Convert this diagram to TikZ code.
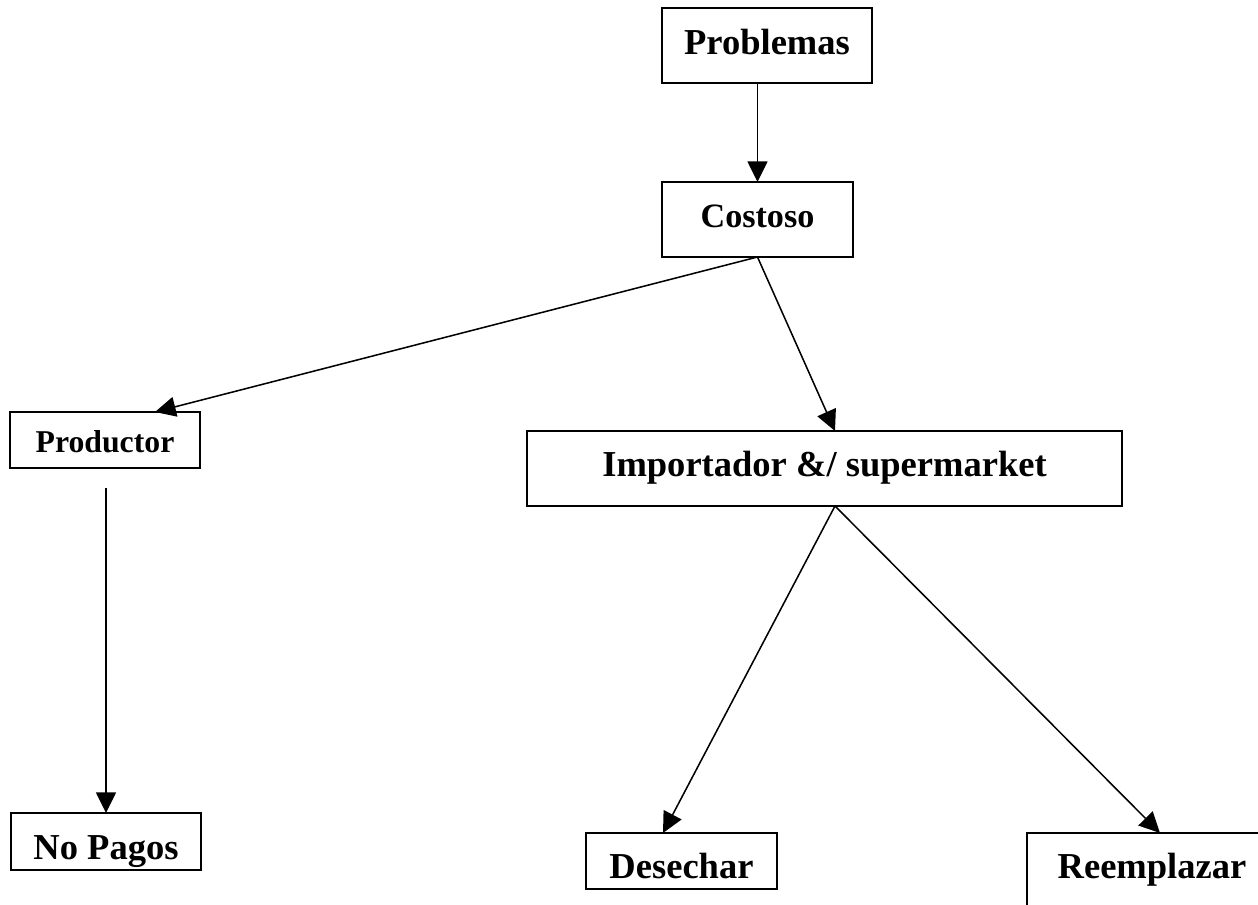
\documentclass[tikz,border=0pt]{standalone}
\usepackage{fontspec}
\setmainfont{Liberation Serif}
\usetikzlibrary{arrows.meta}
\begin{document}
\begin{tikzpicture}[x=0.75pt, y=-0.75pt,
  bx/.style n args={4}{draw, line width=1.2pt, inner sep=0pt, outer sep=0pt,
    minimum width=#1, minimum height=#2, text height=#3, text depth=#4,
    font=\bfseries\fontsize{27.4}{30}\selectfont},
  arr/.style={line width=1.15pt, -{Triangle[length=15.5pt, width=15pt]}}]
\useasboundingbox (0,0) rectangle (1258,905);
\clip (0,0) rectangle (1258,905);

% boxes
\node[bx={157.5pt}{56.25pt}{35.25pt}{21pt}] (prob) at (767,45.5) {Problemas};
\node[bx={143.25pt}{56.25pt}{34.5pt}{21.75pt}, font=\bfseries\fontsize{25.6}{30}\selectfont] (cost) at (757.5,219.5) {Costoso};
\node[bx={142.5pt}{42pt}{30.75pt}{11.25pt}, font=\bfseries\fontsize{23.8}{28}\selectfont] (prod) at (105,440) {Productor};
\node[bx={446.25pt}{56.25pt}{34.5pt}{21.75pt}] (imp) at (824.5,468.5) {Importador \&/ supermarket};
\node[bx={142.5pt}{42.75pt}{34.5pt}{8.25pt}] (nop) at (106,841.5) {No Pagos};
\node[bx={143.25pt}{42pt}{33.75pt}{8.25pt}] (des) at (681.5,861) {Desechar};
\node[bx={187.5pt}{75pt}{33.75pt}{41.25pt}] (reem) at (1152,883) {Reemplazar};

% connectors
\coordinate (prodout) at ([yshift=-15pt]prod.south);
\draw[arr] (prob.south -| cost.north) -- (cost.north);
\draw[arr] (cost.south) -- ([xshift=37.5pt]prod.north);
\draw[arr] (cost.south) -- ([xshift=7.875pt]imp.north);
\draw[arr] (prodout -| nop.north) -- (nop.north);
\draw[arr] ([xshift=7.875pt]imp.south) -- ([xshift=-13.875pt]des.north);
\draw[arr] ([xshift=7.875pt]imp.south) -- ([xshift=6pt]reem.north);
\end{tikzpicture}
\end{document}
